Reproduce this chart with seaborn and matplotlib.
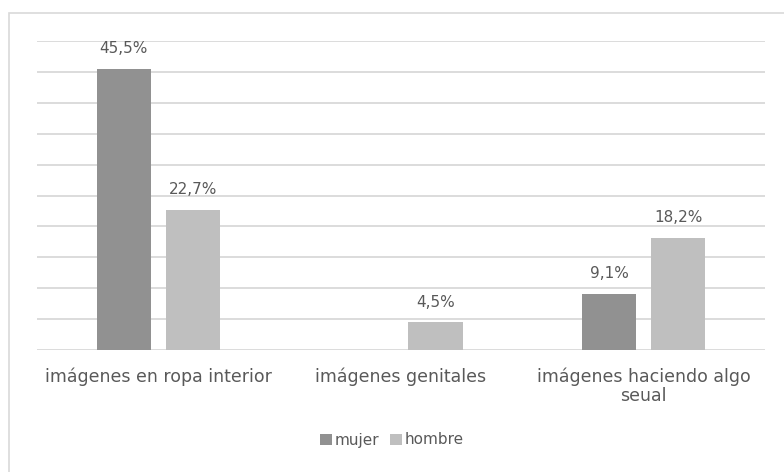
import numpy as np
import pandas as pd
import matplotlib
matplotlib.use("Agg")
import matplotlib.pyplot as plt
from matplotlib.patches import Rectangle
import seaborn as sns

# data
categorias = ["imágenes en ropa interior", "imágenes genitales", "imágenes haciendo algo\nseual"]
mujer = [45.5, np.nan, 9.1]
hombre = [22.7, 4.5, 18.2]
series = ["mujer", "hombre"]
colores = ["#919191", "#bfbfbf"]

df = pd.DataFrame({
    "categoria": categorias * 2,
    "valor": mujer + hombre,
    "sexo": ["mujer"] * 3 + ["hombre"] * 3,
})
df["categoria"] = pd.Categorical(df["categoria"], categories=categorias)
df = df.dropna()

sns.set_style("white")
plt.rcParams["font.family"] = ["DejaVu Sans"]
txt = "#595959"
grid = "#d9d9d9"

fig = plt.figure(figsize=(7.84, 4.72), dpi=100)
# outer chart border (right and bottom edges are cut off in the original)
fig.patches.append(Rectangle((8.5 / 784, -10 / 472), 800 / 784, 469.5 / 472, transform=fig.transFigure,
                             fill=False, edgecolor=grid, linewidth=1.2))

ax = fig.add_axes([37 / 784, (472 - 350) / 472, (765 - 37) / 784, (350 - 41) / 472])
sns.barplot(data=df, x="categoria", y="valor", hue="sexo", hue_order=series, order=categorias,
            palette=colores, width=0.569, gap=0.217, saturation=1, linewidth=0, ax=ax, legend=True)

ax.set_ylim(0, 50)
ax.set_yticks(np.arange(0, 51, 5))
ax.yaxis.grid(True, color=grid, linewidth=1.3)
ax.set_axisbelow(True)
ax.tick_params(axis="y", left=False, labelleft=False)
ax.tick_params(axis="x", bottom=False, labelsize=12.5, colors=txt, pad=9)
for lab in ax.get_xticklabels():
    lab.set_linespacing(1.1)
for s in ax.spines.values():
    s.set_visible(False)
ax.set_xlabel("")
ax.set_ylabel("")

for cont in ax.containers:
    ax.bar_label(cont, fmt=lambda v: f"{v:.1f}%".replace(".", ","), padding=9, fontsize=11, color=txt)

handles, names = ax.get_legend_handles_labels()
ax.legend_.remove()
fig.legend(handles, names, loc="center", bbox_to_anchor=(392 / 784, 1 - 440 / 472), ncol=2,
           frameon=False, fontsize=11, labelcolor=txt, handlelength=0.75, handleheight=0.75,
           handletextpad=0.2, columnspacing=0.7)

fig.savefig("out.png", dpi=100)
